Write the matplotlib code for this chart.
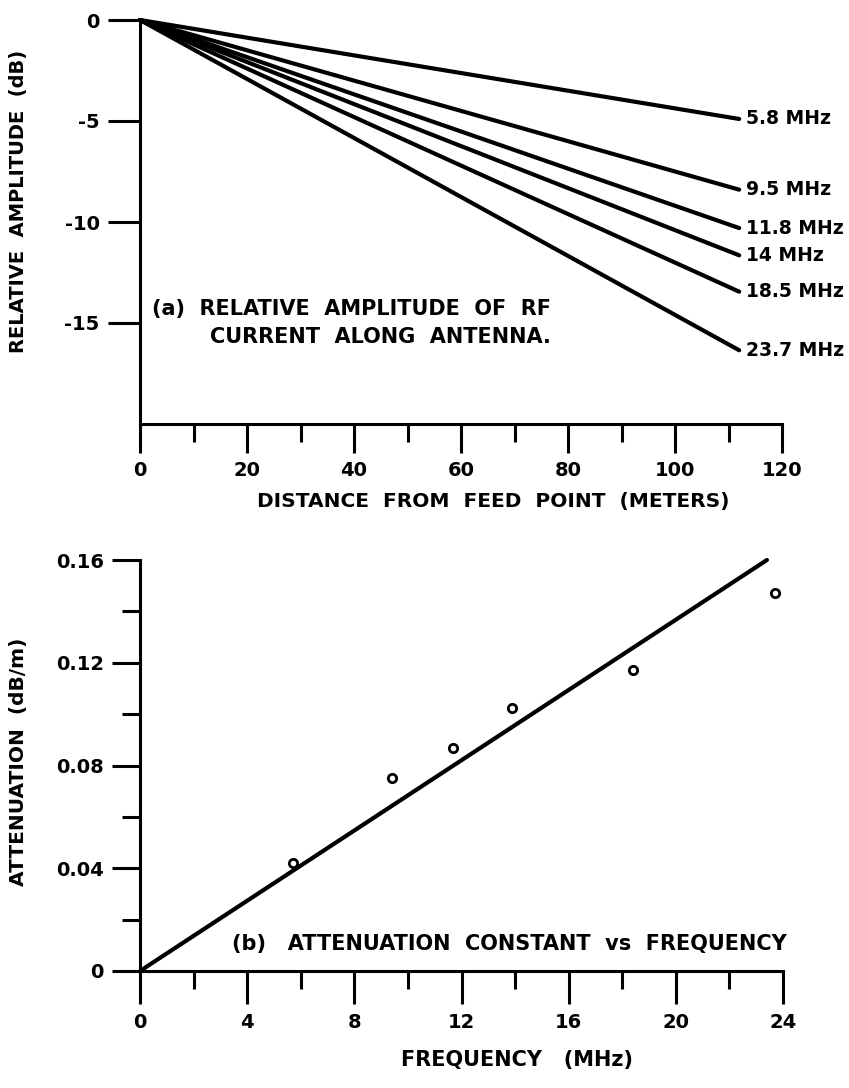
import matplotlib.pyplot as plt
from matplotlib.ticker import MultipleLocator

# (a) relative amplitude along the antenna, read at the line ends
freq_labels = ["5.8 MHz", "9.5 MHz", "11.8 MHz", "14 MHz", "18.5 MHz", "23.7 MHz"]
dist_end = 112.0
amp_end = [-4.9, -8.4, -10.3, -11.65, -13.45, -16.35]

# (b) attenuation constant vs frequency
freq_mhz = [5.7, 9.4, 11.7, 13.9, 18.4, 23.7]
atten = [0.042, 0.075, 0.087, 0.1025, 0.117, 0.147]
fit_x = [0.0, 23.4]
fit_y = [0.0, 0.16]

plt.rcParams['font.family'] = ['DejaVu Sans']
plt.rcParams['font.weight'] = 'bold'

LW = 3.0
SPW = 2.2

fig = plt.figure(figsize=(8.49, 10.88), dpi=100)
ax1 = fig.add_axes([140 / 849, 1 - 424 / 1088, 642 / 849, 404 / 1088])
ax2 = fig.add_axes([140 / 849, 1 - 971 / 1088, 643 / 849, 411 / 1088])


def style_axes(ax):
    for s in ['top', 'right']:
        ax.spines[s].set_visible(False)
    for s in ['left', 'bottom']:
        ax.spines[s].set_linewidth(SPW)
    ax.tick_params(which='major', direction='out', length=20, width=SPW,
                   labelsize=14, pad=6)
    ax.tick_params(which='minor', direction='out', length=13, width=SPW)
    ax.tick_params(axis='x', which='major', length=21, pad=6)


# ---- panel (a)
style_axes(ax1)
for lab, ye in zip(freq_labels, amp_end):
    ax1.plot([0, dist_end], [0, ye], color='black', lw=LW,
             solid_capstyle='round', clip_on=False)
    ax1.annotate(lab, (dist_end, ye), xytext=(5, 0), textcoords='offset points',
                 ha='left', va='center', fontsize=13.5, annotation_clip=False)
ax1.set_xlim(0, 120)
ax1.set_ylim(-20, 0)
ax1.xaxis.set_major_locator(MultipleLocator(20))
ax1.xaxis.set_minor_locator(MultipleLocator(10))
ax1.set_yticks([0, -5, -10, -15])
ax1.set_yticklabels(["0", "-5", "-10", "-15"])
ax1.tick_params(axis='y', which='major', length=23)
ax1.set_xlabel("DISTANCE  FROM  FEED  POINT  (METERS)", fontsize=14.5, fontweight='bold')
ax1.xaxis.set_label_coords(0.55, -0.168)
ax1.set_ylabel("RELATIVE  AMPLITUDE  (dB)", fontsize=14, fontweight='bold')
ax1.yaxis.set_label_coords(-0.1745, 0.552)
ax1.text(0.019, 0.25, "(a)  RELATIVE  AMPLITUDE  OF  RF\n        CURRENT  ALONG  ANTENNA.",
         transform=ax1.transAxes, ha='left', va='center', fontsize=15,
         linespacing=1.45)

# ---- panel (b)
style_axes(ax2)
ax2.plot(fit_x, fit_y, color='black', lw=LW, solid_capstyle='round', clip_on=False)
ax2.plot(freq_mhz, atten, 'o', mfc='white', mec='black', ms=6, mew=2, clip_on=False)
ax2.set_xlim(0, 24)
ax2.set_ylim(0, 0.16)
ax2.set_xticks([0, 4, 8, 12, 16, 20, 24])
ax2.set_xticklabels(["0", "4", "8", "12", "16", "20", "24"])
ax2.set_xticks([2, 6, 10, 14, 18, 22], minor=True)
ax2.set_yticks([0, 0.04, 0.08, 0.12, 0.16])
ax2.set_yticklabels(["0", "0.04", "0.08", "0.12", "0.16"])
ax2.set_yticks([0.02, 0.06, 0.10, 0.14], minor=True)
ax2.tick_params(axis='x', which='major', length=24)
ax2.set_xlabel("FREQUENCY   (MHz)", fontsize=15, fontweight='bold')
ax2.xaxis.set_label_coords(0.586, -0.192)
ax2.set_ylabel("ATTENUATION  (dB/m)", fontsize=14.5, fontweight='bold')
ax2.yaxis.set_label_coords(-0.174, 0.508)
ax2.text(0.143, 0.065, "(b)   ATTENUATION  CONSTANT  vs  FREQUENCY",
         transform=ax2.transAxes, ha='left', va='center', fontsize=15)

fig.savefig("out.png", dpi=100, facecolor='white')
